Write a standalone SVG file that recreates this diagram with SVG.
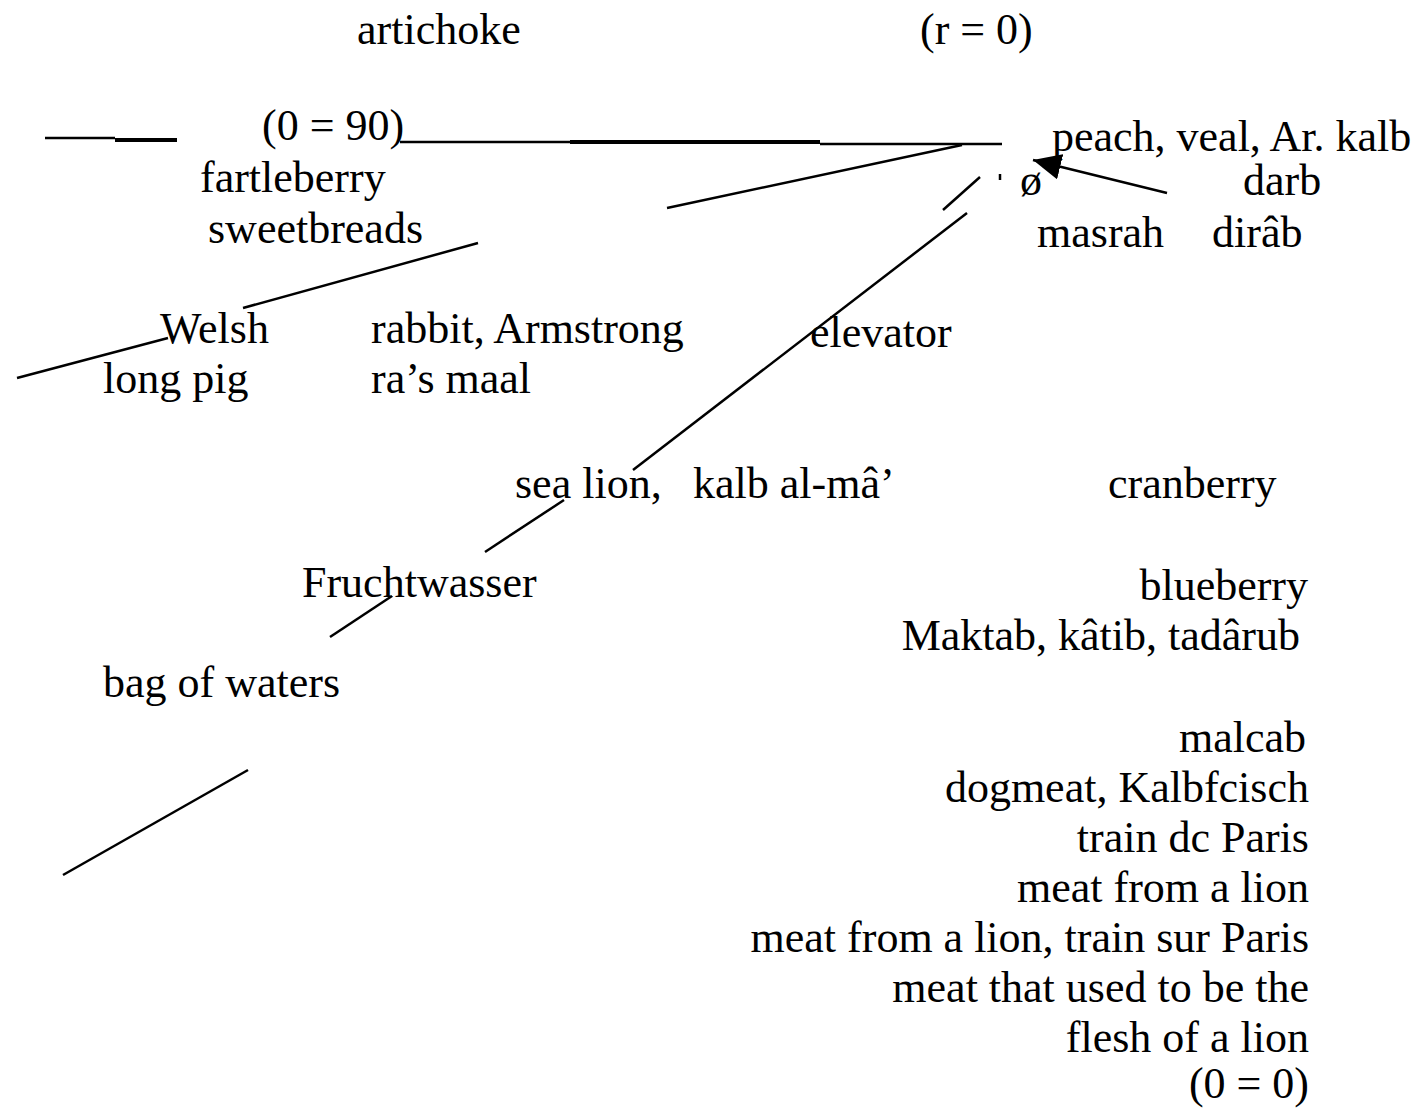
<svg xmlns="http://www.w3.org/2000/svg" width="1425" height="1117" viewBox="0 0 1425 1117">
<style>
text{font-family:"Liberation Serif","Times New Roman",serif;font-size:44px;fill:#000}
.e{text-anchor:end}
.c line{stroke:#000;stroke-width:2.5;stroke-linecap:butt}
.c .k{stroke-width:4}
</style>
<defs>
<marker id="ah" markerUnits="userSpaceOnUse" markerWidth="30" markerHeight="26" refX="28" refY="13" orient="auto">
<path d="M0,0 L28,13 L0,26 z" fill="#000"/>
</marker>
</defs>
<rect width="1425" height="1117" fill="#fff"/>
<g id="connectors" class="c">
<line x1="45" y1="138" x2="115" y2="138"/>
<line class="k" x1="115" y1="140" x2="177" y2="140"/>
<line x1="400" y1="142" x2="570" y2="142"/>
<line class="k" x1="570" y1="142" x2="820" y2="142"/>
<line x1="820" y1="144" x2="1002" y2="144"/>
<line x1="667" y1="208" x2="962" y2="145"/>
<line x1="478" y1="243" x2="243" y2="308"/>
<line x1="168" y1="338" x2="17" y2="378"/>
<line x1="980" y1="177" x2="943" y2="210"/>
<line x1="1000" y1="174" x2="1000" y2="180"/>
<line x1="967" y1="213" x2="633" y2="470"/>
<line x1="564" y1="500" x2="485" y2="552"/>
<line x1="392" y1="596" x2="330" y2="637"/>
<line x1="248" y1="770" x2="63" y2="875"/>
<line x1="1167" y1="193" x2="1033" y2="160" marker-end="url(#ah)"/>
</g>
<g id="n-artichoke"><text x="357" y="44">artichoke</text></g>
<g id="n-r0"><text x="920" y="44">(r = 0)</text></g>
<g id="n-theta90"><text x="262" y="140">(0 = 90)</text></g>
<g id="n-fartleberry"><text x="200" y="192">fartleberry</text></g>
<g id="n-sweetbreads"><text x="208" y="243">sweetbreads</text></g>
<g id="n-peach"><text x="1052" y="151">peach, veal, Ar. kalb</text></g>
<g id="n-o"><text x="1020" y="195">ø</text></g>
<g id="n-darb"><text x="1243" y="195">darb</text></g>
<g id="n-masrah"><text x="1037" y="247">masrah</text></g>
<g id="n-dirab"><text x="1212" y="247">dirâb</text></g>
<g id="n-welsh"><text x="160" y="343">Welsh</text></g>
<g id="n-rabbit"><text x="371" y="343">rabbit, Armstrong</text></g>
<g id="n-elevator"><text x="810" y="347">elevator</text></g>
<g id="n-longpig"><text x="103" y="393">long pig</text></g>
<g id="n-rasmaal"><text x="371" y="393">ra’s maal</text></g>
<g id="n-sealion"><text x="515" y="498">sea lion,</text><text x="693" y="498">kalb al-mâ’</text></g>
<g id="n-cranberry"><text x="1108" y="498">cranberry</text></g>
<g id="n-fruchtwasser"><text x="302" y="597">Fruchtwasser</text></g>
<g id="n-blueberry"><text class="e" x="1308" y="600">blueberry</text></g>
<g id="n-maktab"><text class="e" x="1300" y="650">Maktab, kâtib, tadârub</text></g>
<g id="n-bag"><text x="103" y="697">bag of waters</text></g>
<g id="n-right">
<text class="e" x="1306" y="752">malcab</text>
<text class="e" x="1309" y="802">dogmeat, Kalbfcisch</text>
<text class="e" x="1309" y="852">train dc Paris</text>
<text class="e" x="1309" y="902">meat from a lion</text>
<text class="e" x="1309" y="952">meat from a lion, train sur Paris</text>
<text class="e" x="1309" y="1002">meat that used to be the</text>
<text class="e" x="1309" y="1052">flesh of a lion</text>
<text class="e" x="1309" y="1098">(0 = 0)</text>
</g>
</svg>
